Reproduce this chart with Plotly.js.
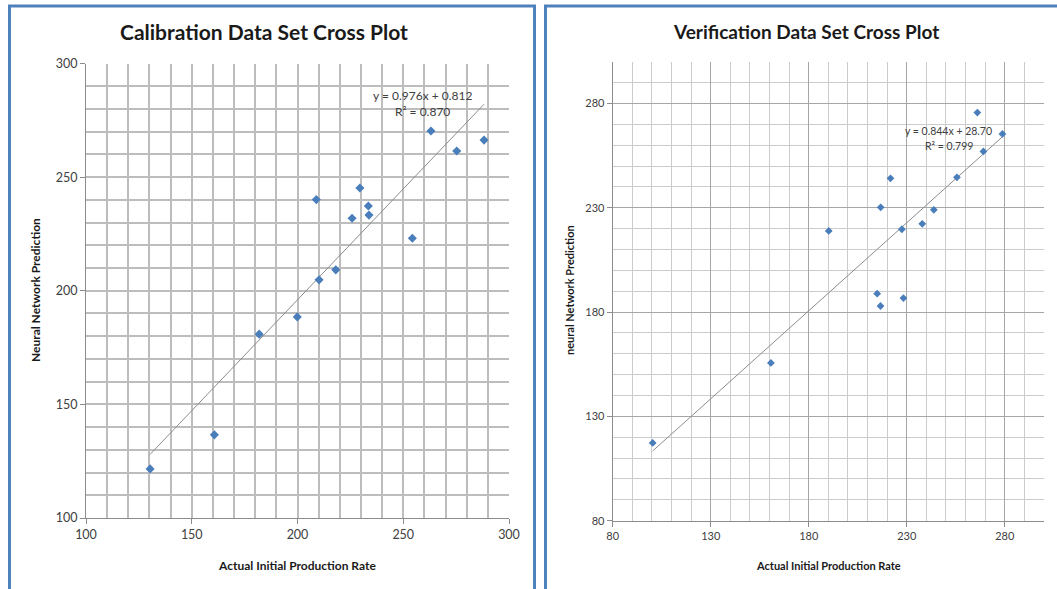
<!DOCTYPE html>
<html>
<head>
<meta charset="utf-8">
<script src="https://cdn.plot.ly/plotly-3.0.1.min.js"></script>
<style>
  html, body { margin: 0; padding: 0; background: #ffffff; }
  #chart { width: 1057px; height: 589px; }
</style>
</head>
<body>
<div id="chart"></div>
<script>
// Calibration set: actual initial production rate vs. neural network prediction
const calActual = [263.1, 288.2, 275.3, 229.5, 208.9, 233.5, 233.8, 225.8, 254.3, 218.1, 210.2, 181.9, 199.9, 160.7, 130.3];
const calPredicted = [270.3, 266.3, 261.5, 245.2, 240.1, 237.3, 233.3, 231.9, 223.1, 209.2, 204.8, 180.9, 188.5, 136.6, 121.6];

// Verification set
const verActual = [266.0, 278.8, 269.1, 255.6, 221.7, 216.7, 243.8, 237.9, 227.5, 190.2, 214.9, 228.3, 216.6, 160.7, 100.4];
const verPredicted = [275.6, 265.4, 257.0, 244.6, 244.1, 230.2, 229.0, 222.3, 219.7, 218.9, 188.8, 186.7, 182.9, 155.6, 117.3];

// Linear trendlines as reported on each panel
const calFit = { slope: 0.976, intercept: 0.812, r2: 0.870, digits: 3 };
const verFit = { slope: 0.844, intercept: 28.70, r2: 0.799, digits: 2 };

// Titles and tick positions
const panelTitles = ["Calibration Data Set Cross Plot", "Verification Data Set Cross Plot"];
const xAxisTitles = ["Actual Initial Production Rate", "Actual Initial Production Rate"];
const yAxisTitles = ["Neural Network Prediction", "neural Network Prediction"];
const calTicks = [100, 150, 200, 250, 300];
const verTicks = [80, 130, 180, 230, 280];

const W = 1057, H = 589;
const px = v => v / W;
const py = v => 1 - v / H;

function fitLine(xs, fit) {
  const lo = Math.min(...xs), hi = Math.max(...xs);
  return { x: [lo, hi], y: [fit.slope * lo + fit.intercept, fit.slope * hi + fit.intercept] };
}
function eqText(fit) {
  return "y = " + fit.slope.toFixed(3) + "x + " + fit.intercept.toFixed(fit.digits);
}
function r2Text(fit) {
  return "R\u00b2 = " + fit.r2.toFixed(3);
}

const FONT = "Lato, 'Open Sans', sans-serif";
const blue = "#4a7ebb";

const calLine = fitLine(calActual, calFit);
const verLine = fitLine(verActual, verFit);

const traces = [
  { x: calLine.x, y: calLine.y, xaxis: "x", yaxis: "y", mode: "lines",
    line: { color: "#8c8c8c", width: 1 }, hoverinfo: "skip" },
  { x: calActual, y: calPredicted, xaxis: "x", yaxis: "y", mode: "markers",
    marker: { symbol: "diamond", size: 7, color: blue } },
  { x: verLine.x, y: verLine.y, xaxis: "x2", yaxis: "y2", mode: "lines",
    line: { color: "#8c8c8c", width: 1 }, hoverinfo: "skip" },
  { x: verActual, y: verPredicted, xaxis: "x2", yaxis: "y2", mode: "markers",
    marker: { symbol: "diamond", size: 6, color: blue } }
];

function axis(range, ticks, domain, anchor, fontSize, grid, minor) {
  return {
    range: range, domain: domain, anchor: anchor,
    tickmode: "array", tickvals: ticks, ticktext: ticks.map(String),
    ticks: "outside", ticklen: 5, tickcolor: "#8c8c8c", tickwidth: 1,
    showline: true, linecolor: "#8c8c8c", linewidth: 1,
    showgrid: true, gridcolor: grid.color, gridwidth: grid.width,
    minor: { dtick: 10, tick0: range[0], showgrid: true, gridcolor: minor.color, gridwidth: minor.width },
    tickfont: { family: FONT, size: fontSize, color: "#404040" },
    zeroline: false, fixedrange: true
  };
}

const calGrid = { color: "#bdbdbd", width: 2 };
const verMajor = { color: "#a6a6a6", width: 1 };
const verMinor = { color: "#cccccc", width: 1 };

function label(x, y, text, size, extra) {
  return Object.assign({ xref: "paper", yref: "paper", x: px(x), y: py(y), text: text,
    xanchor: "center", yanchor: "middle", showarrow: false,
    font: { family: FONT, size: size, color: "#1a1a1a" } }, extra || {});
}

const layout = {
  width: W, height: H,
  margin: { l: 0, r: 0, t: 0, b: 0 },
  paper_bgcolor: "#ffffff", plot_bgcolor: "#ffffff",
  showlegend: false,
  xaxis: axis([100, 300], calTicks, [px(86), px(509)], "y", 12.5, calGrid, calGrid),
  yaxis: axis([100, 300], calTicks, [py(518), py(63.5)], "x", 12.5, calGrid, calGrid),
  xaxis2: axis([80, 300], verTicks, [px(612.7), px(1044)], "y2", 11, verMajor, verMinor),
  yaxis2: axis([80, 300], verTicks, [py(520.7), py(61.7)], "x2", 11, verMajor, verMinor),
  shapes: [
    { type: "rect", xref: "paper", yref: "paper", x0: px(9.5), x1: px(534.5), y0: -0.05, y1: py(6),
      line: { color: "#4f81bd", width: 3 } },
    { type: "rect", xref: "paper", yref: "paper", x0: px(545.5), x1: 1.05, y0: -0.05, y1: py(6),
      line: { color: "#4f81bd", width: 3 } }
  ],
  annotations: [
    label(264, 32, "<b>" + panelTitles[0] + "</b>", 21),
    label(806, 32, "<b>" + panelTitles[1] + "</b>", 19),
    label(297, 565, "<b>" + xAxisTitles[0] + "</b>", 12),
    label(828, 565, "<b>" + xAxisTitles[1] + "</b>", 11),
    label(35, 290, "<b>" + yAxisTitles[0] + "</b>", 12, { textangle: -90 }),
    label(569, 290, "<b>" + yAxisTitles[1] + "</b>", 11, { textangle: -90 }),
    { xref: "x", yref: "y", x: 259.3, y: 285.7, text: eqText(calFit), showarrow: false,
      font: { family: FONT, size: 12, color: "#404040" } },
    { xref: "x", yref: "y", x: 259.3, y: 278.7, text: r2Text(calFit), showarrow: false,
      font: { family: FONT, size: 12, color: "#404040" } },
    { xref: "x2", yref: "y2", x: 251.3, y: 266.9, text: eqText(verFit), showarrow: false,
      font: { family: FONT, size: 10.5, color: "#404040" } },
    { xref: "x2", yref: "y2", x: 251.3, y: 259.5, text: r2Text(verFit), showarrow: false,
      font: { family: FONT, size: 10.5, color: "#404040" } }
  ]
};

Plotly.newPlot("chart", traces, layout, { displayModeBar: false, staticPlot: true });
</script>
</body>
</html>
